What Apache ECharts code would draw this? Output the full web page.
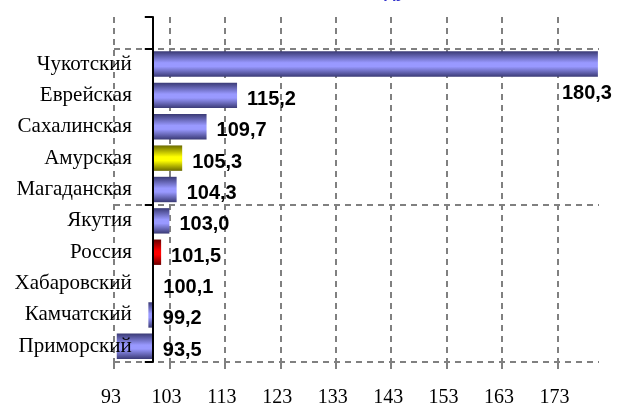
<!DOCTYPE html>
<html>
<head>
<meta charset="utf-8">
<script src="https://cdn.jsdelivr.net/npm/echarts@6/dist/echarts.min.js"></script>
<style>html,body{margin:0;padding:0;background:#fff}#c{width:619px;height:408px}</style>
</head>
<body>
<div id="c"></div>
<script>
const categories = ['Приморский','Камчатский','Хабаровский','Россия','Якутия','Магаданская','Амурская','Сахалинская','Еврейская','Чукотский'];
const values = [93.5, 99.2, 100.1, 101.5, 103.0, 104.3, 105.3, 109.7, 115.2, 180.3];
const xTicks = [93, 103, 113, 123, 133, 143, 153, 163, 173];
const baseValue = 100;
const axisMin = 93;
const axisMax = 180.5;
const categoryGridLines = [0, 5, 10];
const titleText = 'в 2009 году';

function grad(edge, mid) {
  return new echarts.graphic.LinearGradient(0, 0, 0, 1, [
    {offset: 0, color: edge},
    {offset: 0.45, color: mid},
    {offset: 0.6, color: mid},
    {offset: 1, color: edge}
  ]);
}
const special = {
  'Россия': grad('#6a0000', '#ff0000'),
  'Амурская': grad('#6a6a00', '#ffff00')
};
const blue = grad('#3a3a75', '#9999ff');

const yCats = categories.concat(['']);
const baseData = values.map(v => Math.min(v, baseValue));
const diffData = values.map((v, i) => ({
  value: Math.abs(v - baseValue),
  itemStyle: {color: special[categories[i]] || blue},
  label: categories[i] === 'Чукотский' ? {offset: [-46, 29]} : {}
}));
baseData.push('-'); diffData.push('-');

const gridLeft = 114, gridRight = 20, W = 619;
const pxPerUnit = (W - gridLeft - gridRight) / (axisMax - axisMin);
const axisOffset = -(baseValue - axisMin) * pxPerUnit;

const chart = echarts.init(document.getElementById('c'));
const dash = {color: '#808080', width: 2, type: [6, 5]};
chart.setOption({
  animation: false,
  title: {text: titleText, left: 300, top: -22, textStyle: {fontFamily: 'Liberation Sans', fontSize: 18, fontWeight: 'bold', color: '#3333cc'}},
  grid: {left: gridLeft, right: gridRight, top: 17, bottom: 39, containLabel: false},
  xAxis: {
    type: 'value', min: axisMin, max: axisMax,
    axisLine: {show: false},
    axisTick: {show: true, customValues: xTicks, length: 7, lineStyle: {color: '#808080', width: 2}},
    axisLabel: {customValues: xTicks, fontFamily: 'Liberation Serif', fontSize: 20, color: '#000', margin: 26, padding: [0, 6, 0, 0]},
    splitLine: {show: true, lineStyle: dash}
  },
  yAxis: [{
    type: 'category', data: yCats, offset: axisOffset, z: 5,
    axisLine: {show: true, lineStyle: {color: '#000', width: 2}},
    axisTick: {show: true, interval: 4, length: 8, lineStyle: {color: '#000', width: 2}},
    axisLabel: {interval: 0, fontFamily: 'Liberation Serif', fontSize: 21, color: '#000', margin: 21},
    splitLine: {show: false}
  }, {
    type: 'value', min: 0, max: yCats.length, position: 'left',
    axisLine: {show: false}, axisLabel: {show: false},
    axisTick: {show: false, customValues: categoryGridLines},
    splitLine: {show: true, lineStyle: dash}
  }],
  series: [{
    type: 'bar', stack: 's', data: baseData, barWidth: '81%', silent: true,
    itemStyle: {color: 'rgba(0,0,0,0)'}, yAxisIndex: 0
  }, {
    type: 'bar', stack: 's', data: diffData, barWidth: '81%', yAxisIndex: 0,
    label: {
      show: true, position: 'right', distance: 10, offset: [0, 4],
      fontFamily: 'Liberation Sans', fontSize: 20, fontWeight: 'bold', color: '#000',
      formatter: p => values[p.dataIndex].toFixed(1).replace('.', ',')
    }
  }]
});
</script>
</body>
</html>
